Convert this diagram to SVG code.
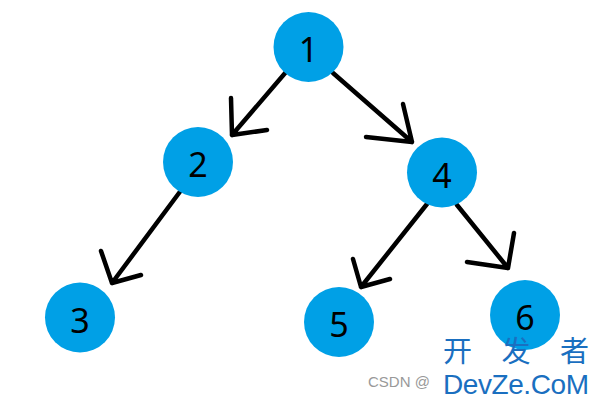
<svg xmlns="http://www.w3.org/2000/svg" width="598" height="402" viewBox="0 0 598 402">
<style>
.node circle{fill:#00A0E6}
.node text{font-family:"Noto Sans","DejaVu Sans",sans-serif;font-size:34px;fill:#000;text-anchor:middle}
.edge{stroke:#000;stroke-width:4.5;fill:none;stroke-linecap:round;stroke-linejoin:round}
.wm{font-family:"Liberation Sans","Noto Sans CJK SC",sans-serif}
</style>
<rect width="598" height="402" fill="#fff"/>
<g id="connectors">
<path class="edge" d="M286 72 L232 135 M231 98 L232 135 L267 130"/>
<path class="edge" d="M333 73 L412 142 M403 104 L412 142 L366 137"/>
<path class="edge" d="M182 189 L112 283 M101 251 L112 283 L141 275"/>
<path class="edge" d="M427 204 L361 287 M353 259 L361 287 L390 279"/>
<path class="edge" d="M457 205 L508 268 M514 233 L508 268 L467 262"/>
</g>
<g id="n1" class="node"><circle cx="308.5" cy="47" r="35"/><text x="308.5" y="62">1</text></g>
<g id="n2" class="node"><circle cx="198" cy="162" r="35"/><text x="198" y="177">2</text></g>
<g id="n3" class="node"><circle cx="80" cy="317.5" r="35"/><text x="80" y="333">3</text></g>
<g id="n4" class="node"><circle cx="442" cy="172.5" r="35"/><text x="442" y="188">4</text></g>
<g id="n5" class="node"><circle cx="339" cy="322" r="35"/><text x="339" y="337">5</text></g>
<g id="n6" class="node"><circle cx="525" cy="315" r="35"/><text x="525" y="330">6</text></g>
<g id="watermark">
<text class="wm" x="368" y="387" font-size="15" fill="#999">CSDN @</text>
<text class="wm" x="443" y="362" font-size="29" fill="#1a6fc0" textLength="146">开 发 者</text>
<text class="wm" x="443" y="394" font-size="28" fill="#1a6fc0" textLength="146">DevZe.CoM</text>
</g>
</svg>
